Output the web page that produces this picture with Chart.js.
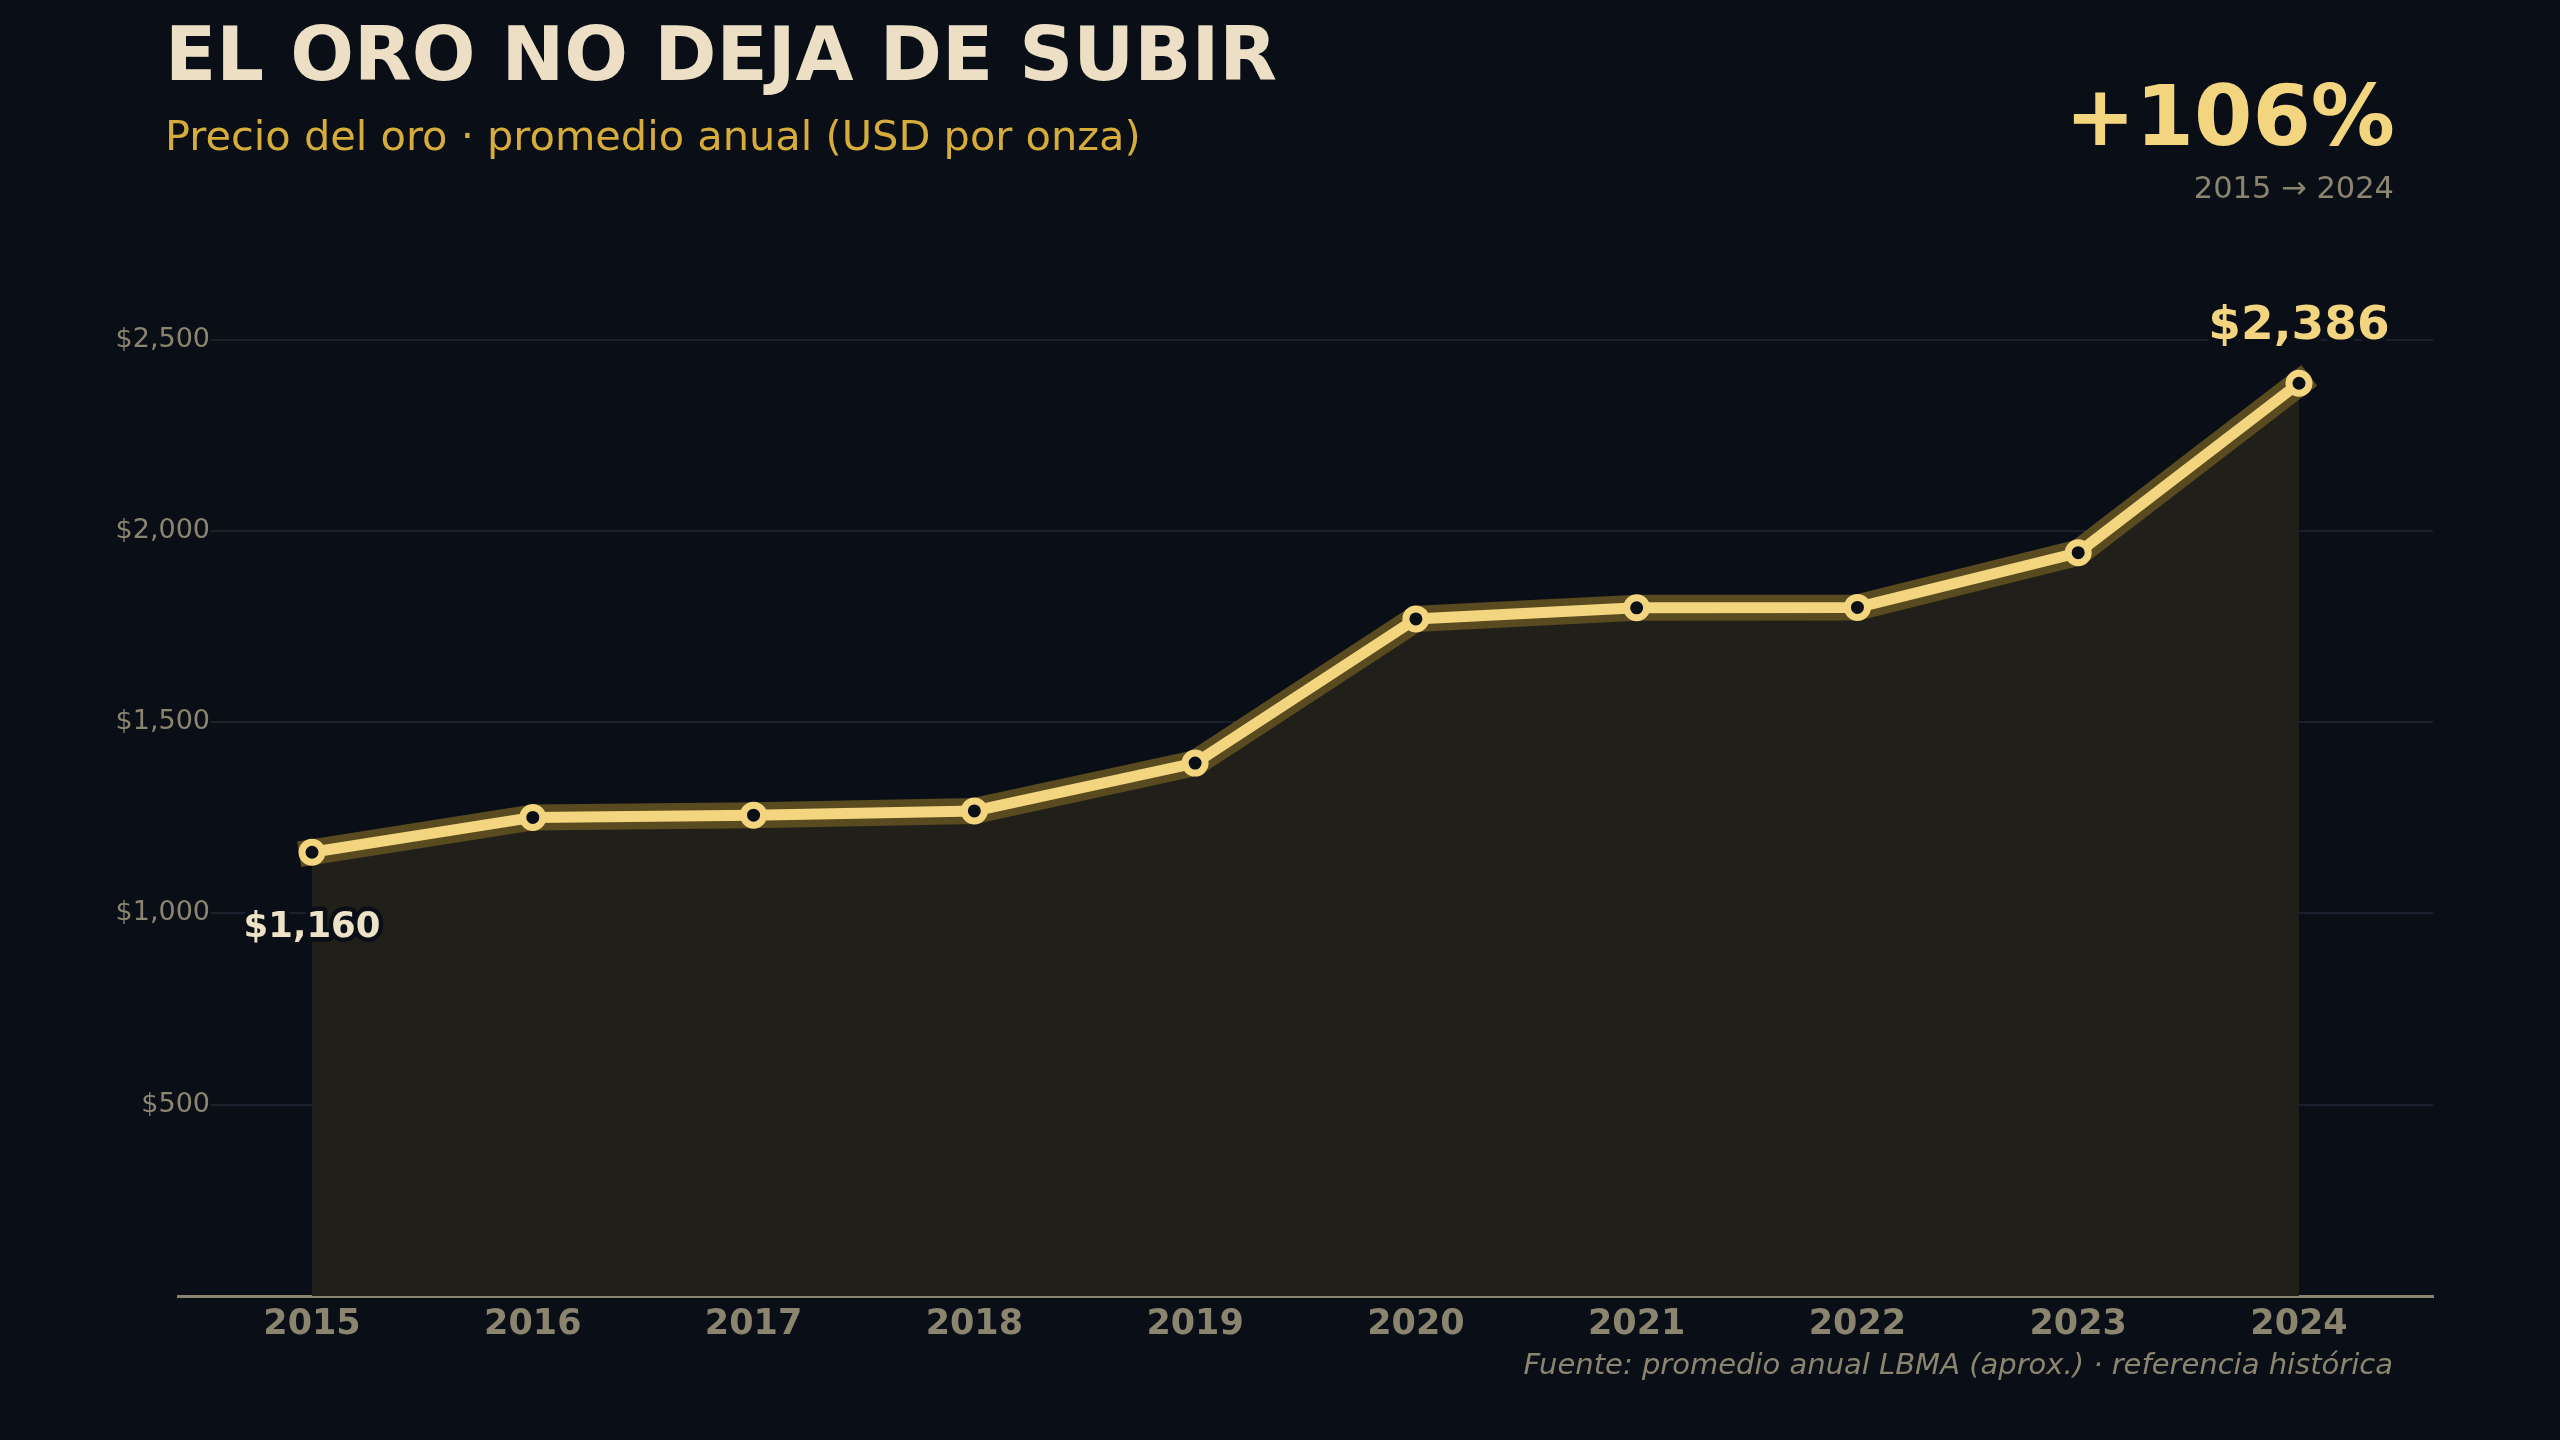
<!DOCTYPE html>
<html>
<head>
<meta charset="utf-8">
<script src="https://cdn.jsdelivr.net/npm/chart.js@4.4.1/dist/chart.umd.min.js"></script>
<style>
  html, body { margin: 0; padding: 0; background: #0a0e17; }
  #wrap { position: relative; width: 2560px; height: 1440px; overflow: hidden; background: #0a0e17; font-family: 'DejaVu Sans', sans-serif; }
  canvas { position: absolute; left: 0; top: 0; }
  .txt { position: absolute; white-space: nowrap; line-height: 1; }
  #title { left: 165px; top: 17px; font-size: 75px; font-weight: bold; color: #ecdfc6; }
  #subtitle { left: 165px; top: 115px; font-size: 41.5px; color: #d6ac3a; }
  #pct { right: 165px; top: 74px; font-size: 84px; font-weight: bold; color: #f2d57e; }
  #range { right: 166px; top: 173px; font-size: 30.5px; color: #8b8570; }
  #source { right: 167px; top: 1350px; font-size: 29px; font-style: italic; color: #8b8570; }
</style>
</head>
<body>
<div id="wrap">
  <canvas id="c" width="2560" height="1440"></canvas>
  <div class="txt" id="title">EL ORO NO DEJA DE SUBIR</div>
  <div class="txt" id="subtitle">Precio del oro · promedio anual (USD por onza)</div>
  <div class="txt" id="pct"></div>
  <div class="txt" id="range"></div>
  <div class="txt" id="source">Fuente: promedio anual LBMA (aprox.) · referencia histórica</div>
</div>
<script>
const years = [2015, 2016, 2017, 2018, 2019, 2020, 2021, 2022, 2023, 2024];
const yearLabels = ['2015', '2016', '2017', '2018', '2019', '2020', '2021', '2022', '2023', '2024'];
const goldPrice = [1160, 1251, 1257, 1268, 1393, 1770, 1799, 1800, 1943, 2386];
const yTickValues = [500, 1000, 1500, 2000, 2500];

const BG = '#0a0e17';
const GOLD = '#f2d57e';
const MUTED = '#8b8570';

const first = goldPrice[0], last = goldPrice[goldPrice.length - 1];
document.getElementById('pct').textContent = '+' + Math.round((last / first - 1) * 100) + '%';
document.getElementById('range').textContent = yearLabels[0] + ' \u2192 ' + yearLabels[yearLabels.length - 1];

const points = years.map((y, i) => ({ x: y, y: goldPrice[i] }));
const fmt = v => '$' + Number(v).toLocaleString('en-US');

Chart.defaults.font.family = "'DejaVu Sans', sans-serif";

const endLabels = {
  id: 'endLabels',
  afterDatasetsDraw(chart) {
    const xs = chart.scales.x, ys = chart.scales.y;
    const ctx = chart.ctx;
    ctx.save();
    ctx.textAlign = 'center';
    ctx.textBaseline = 'alphabetic';
    ctx.lineJoin = 'round';
    let px = xs.getPixelForValue(years[0]);
    let py = ys.getPixelForValue(first);
    ctx.font = "bold 35.5px 'DejaVu Sans'";
    ctx.lineWidth = 9;
    ctx.strokeStyle = BG;
    ctx.strokeText(fmt(first), px, py + 85);
    ctx.fillStyle = '#ede1c8';
    ctx.fillText(fmt(first), px, py + 85);
    px = xs.getPixelForValue(years[years.length - 1]);
    py = ys.getPixelForValue(last);
    ctx.font = "bold 47px 'DejaVu Sans'";
    ctx.lineWidth = 9;
    ctx.strokeText(fmt(last), px, py - 44);
    ctx.fillStyle = GOLD;
    ctx.fillText(fmt(last), px, py - 44);
    ctx.restore();
  }
};

new Chart(document.getElementById('c'), {
  type: 'line',
  data: {
    datasets: [
      {
        data: points,
        borderColor: GOLD,
        borderWidth: 11,
        borderCapStyle: 'butt',
        tension: 0,
        fill: false,
        pointRadius: 10,
        pointBorderWidth: 7,
        pointBackgroundColor: BG,
        pointBorderColor: GOLD,
        pointHoverRadius: 10
      },
      {
        data: points,
        borderColor: '#594a1f',
        borderWidth: 26,
        borderCapStyle: 'square',
        tension: 0,
        pointRadius: 0,
        fill: 'origin',
        backgroundColor: '#201f1a'
      }
    ]
  },
  options: {
    responsive: false,
    animation: false,
    layout: { padding: { left: 0, right: 127, top: 244, bottom: 0 } },
    plugins: { legend: { display: false }, tooltip: { enabled: false }, title: { display: false } },
    scales: {
      x: {
        type: 'linear',
        min: 2014.393,
        max: 2024.607,
        afterBuildTicks: s => { s.ticks = years.map(v => ({ value: v })); },
        afterFit: s => { s.height = 144; },
        grid: { display: true, drawOnChartArea: false, drawTicks: false, color: 'transparent' },
        border: { display: true, color: MUTED, width: 3 },
        ticks: {
          autoSkip: false,
          maxRotation: 0,
          padding: 8,
          color: MUTED,
          font: { size: 35, weight: 'bold' },
          callback: v => yearLabels[years.indexOf(v)]
        }
      },
      y: {
        min: 0,
        max: 2750,
        afterBuildTicks: s => { s.ticks = yTickValues.map(v => ({ value: v })); },
        afterFit: s => { s.width = 178; s._computeLabelArea = () => undefined; },
        grid: { color: '#1c1f2e', lineWidth: 2, drawTicks: false },
        border: { display: false },
        ticks: {
          padding: -32,
          color: MUTED,
          font: { size: 27 },
          showLabelBackdrop: true,
          backdropColor: BG,
          backdropPadding: { top: 0, bottom: 0, left: 0, right: 1 },
          callback: v => fmt(v)
        }
      }
    }
  },
  plugins: [endLabels]
});
</script>
</body>
</html>
